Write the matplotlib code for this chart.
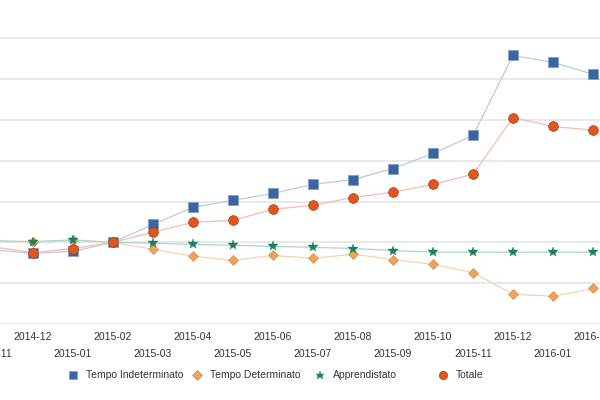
import matplotlib
matplotlib.use("Agg")
import matplotlib.pyplot as plt
from matplotlib.lines import Line2D

plt.rcParams['font.family'] = ['Liberation Sans', 'DejaVu Sans']

# months, index 2015-02 = 100
months = ["2014-11", "2014-12", "2015-01", "2015-02", "2015-03", "2015-04",
          "2015-05", "2015-06", "2015-07", "2015-08", "2015-09", "2015-10",
          "2015-11", "2015-12", "2016-01", "2016-02"]
indeterminato = [98.2, 97.3, 97.8, 100.0, 104.4, 108.6, 110.3, 112.0,
                 114.2, 115.4, 118.1, 121.8, 126.2, 145.8, 144.1, 141.2]
determinato = [100.3, 100.0, 100.5, 100.0, 98.3, 96.6, 95.6, 96.8,
               96.1, 97.1, 95.8, 94.6, 92.6, 87.3, 86.8, 88.7]
apprendistato = [100.4, 100.2, 100.6, 100.0, 99.8, 99.5, 99.3, 99.0,
                 98.8, 98.5, 98.0, 97.6, 97.6, 97.6, 97.6, 97.6]
totale = [98.9, 97.5, 98.5, 100.0, 102.5, 104.9, 105.4, 108.1,
          109.1, 111.0, 112.3, 114.2, 116.7, 130.6, 128.4, 127.5]

x = list(range(len(months)))

fig = plt.figure(figsize=(6, 4), dpi=100)
# plot area is wider than the picture (cropped on both sides)
ax = fig.add_axes([0, 76 / 400, 1, 324 / 400])

styles = [
    ("Tempo Indeterminato", indeterminato,
     dict(color="#bccae0", marker="s", ms=7, mfc="#3a65a0", mec="#8aa0c0", mew=0.6)),
    ("Tempo Determinato", determinato,
     dict(color="#f8d2b0", marker="D", ms=5.5, mfc="#eba55a", mec="#d09050", mew=0.5)),
    ("Apprendistato", apprendistato,
     dict(color="#a8d8c8", marker="*", ms=7.5, mfc="#1a8060", mec="#1a8060", mew=0.3)),
    ("Totale", totale,
     dict(color="#f8bca4", marker="o", ms=7, mfc="#e0561c", mec="#a04020", mew=0.5)),
]
for z, (name, vals, st) in enumerate(styles):
    ax.plot(x, vals, lw=0.9, zorder=3 + z, **st)

ax.set_xticks(x)
ax.set_xticklabels([])
ax.set_yticks([80, 90, 100, 110, 120, 130, 140, 150])
# limits after ticks, set_xticks would widen them otherwise
ax.set_xlim(0.175, 15.175)
ax.set_ylim(80, 159.4)
ax.yaxis.grid(True, color="#e6e6ec", lw=1.3)
ax.set_axisbelow(True)
for s in ax.spines.values():
    s.set_visible(False)
ax.tick_params(axis="y", length=0, labelleft=False)
ax.tick_params(axis="x", length=0)

# staggered month labels
for i, m in enumerate(months):
    ypos = -0.024 if i % 2 == 1 else -0.077
    ax.text(i, ypos, m, transform=ax.get_xaxis_transform(),
            ha="center", va="top", fontsize=7.5, color="#333333")

# legend with fixed item spacing
leg_x = [73, 197, 320, 443]
for (name, vals, st), px in zip(styles, leg_x):
    ms = st["ms"] * 0.85
    fig.add_artist(Line2D([px / 600], [1 - 375 / 400], transform=fig.transFigure,
                          marker=st["marker"], ms=ms, mfc=st["mfc"],
                          mec=st["mec"], mew=st["mew"], ls="none"))
    fig.text((px + 13) / 600, 1 - 375 / 400, name, ha="left", va="center",
             fontsize=7.5, color="#333333")

fig.savefig("out.png", dpi=100)
